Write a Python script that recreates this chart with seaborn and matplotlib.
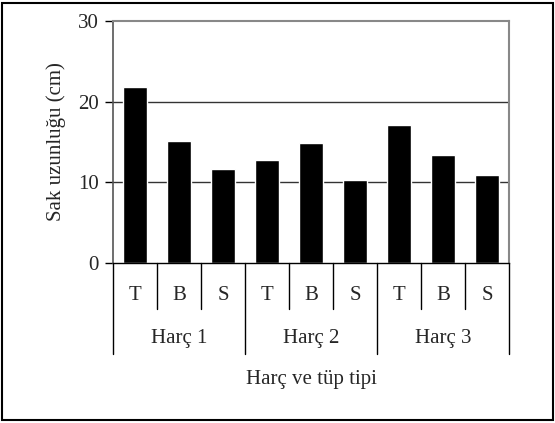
"""
Bar chart of sak uzunluğu by harç and tüp tipi.
"""

import matplotlib
matplotlib.use("Agg")
import matplotlib.pyplot as plt
import matplotlib.transforms as mtransforms
from matplotlib.patches import Rectangle
import seaborn as sns
import pandas as pd

# Data
harc_groups = ["Harç 1", "Harç 2", "Harç 3"]
tup_types = ["T", "B", "S"]
sak_uzunlugu = [21.8, 15.1, 11.6, 12.8, 14.9, 10.3, 17.1, 13.4, 10.9]
y_ticks = [0, 10, 20, 30]

sns.set_style("white")
plt.rcParams['font.family'] = ['Liberation Serif', 'DejaVu Serif']
plt.rcParams['font.size'] = 15

df = pd.DataFrame({
    'harc': [h for h in harc_groups for _ in tup_types],
    'tup': [t for _ in harc_groups for t in tup_types],
    'value': sak_uzunlugu,
})
df['key'] = df['harc'] + " " + df['tup']

fig = plt.figure(figsize=(5.55, 4.23), dpi=100)
ax = fig.add_axes([113 / 555, 1 - 263 / 423, 396 / 555, 242 / 423])

sns.barplot(data=df, x='key', y='value', order=list(df['key']),
            color='black', saturation=1, width=0.55, ax=ax, errorbar=None)

ax.set_ylim(0, 30)
ax.set_xlim(-0.5, len(df) - 0.5)
ax.set_yticks(y_ticks)
ax.set_yticklabels([str(v) for v in y_ticks])
ax.tick_params(axis='y', left=True, direction='out', length=6, width=1,
               color='black', pad=4)
ax.set_xticks([])
ax.set_xlabel("")
ax.set_ylabel("Sak uzunluğu (cm)", labelpad=9)

for v in y_ticks[1:-1]:
    ax.axhline(v, color='#333333', linewidth=1, zorder=0)

for side in ['top', 'right']:
    ax.spines[side].set_color('#888888')
    ax.spines[side].set_linewidth(1.5)
ax.spines['left'].set_color('#555555')
ax.spines['left'].set_linewidth(1.2)
ax.spines['bottom'].set_color('black')
ax.spines['bottom'].set_linewidth(1)

# multi-level category axis
trans = mtransforms.blended_transform_factory(ax.transData, ax.transAxes)
n_tup = len(tup_types)
for i in range(len(df) + 1):
    bottom = -0.376 if i % n_tup == 0 else -0.19
    ax.plot([i - 0.5, i - 0.5], [0, bottom], color='black', linewidth=1,
            transform=trans, clip_on=False)
for i, t in enumerate(df['tup']):
    ax.text(i, -0.135, t, ha='center', va='center', transform=trans)
for g, h in enumerate(harc_groups):
    ax.text(g * n_tup + (n_tup - 1) / 2, -0.31, h, ha='center', va='center',
            transform=trans)
ax.text(0.5, -0.48, "Harç ve tüp tipi", ha='center', va='center',
        transform=ax.transAxes)

# outer chart frame
fig.patches.append(Rectangle((2 / 555, 3 / 423), 551 / 555, 417 / 423,
                             transform=fig.transFigure, fill=False,
                             edgecolor='black', linewidth=1.5))

fig.savefig("out.png", dpi=100)
